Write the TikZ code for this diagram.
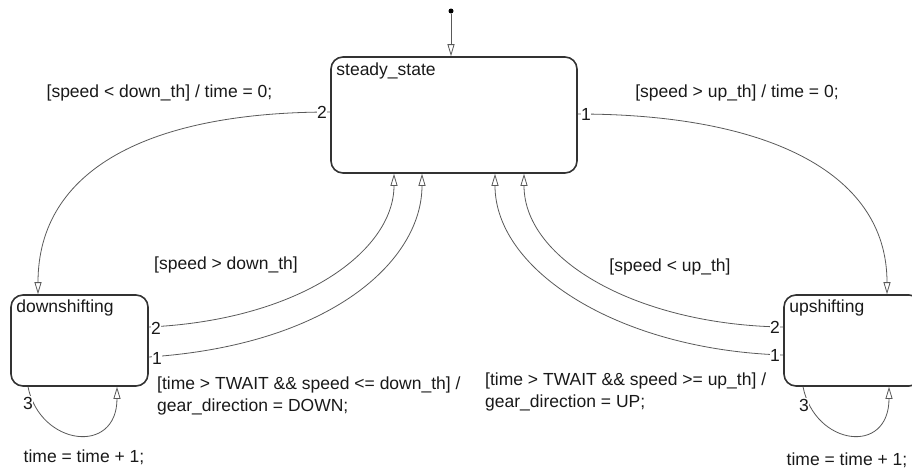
\documentclass[tikz,border=0pt]{standalone}
\usepackage{fontspec}
\setmainfont{Liberation Sans}
\usetikzlibrary{arrows.meta}
\begin{document}
\begin{tikzpicture}[x=1pt,y=-1pt,
  txt/.style={font=\fontsize{17.5}{22}\selectfont, inner sep=0pt, text=black!90},
  statebox/.style={draw=black!80, line width=1.6pt, rounded corners=12pt, inner sep=0pt},
  conn/.style={draw=black!65, line width=0.8pt, -{Triangle[open, length=12pt, width=7pt, fill=white]}},
  num/.style={txt, fill=white, inner sep=0.6pt},
]
\useasboundingbox (0,0) rectangle (912,469);
\clip (0,0) rectangle (912,469);

% states
\node[statebox, minimum width=246pt, minimum height=116pt] (ss) at (454,115) {};
\node[statebox, minimum width=137pt, minimum height=91pt] (ds) at (79.5,340.5) {};
\node[statebox, minimum width=137pt, minimum height=91pt] (us) at (852.5,340.5) {};
\node[txt, anchor=west] (sst) at ([xshift=6pt,yshift=-15pt]ss.north west) {steady\_state};
\node[txt, anchor=west] (dst) at ([xshift=6pt,yshift=-14pt]ds.north west) {downshifting};
\node[txt, anchor=west] (ust) at ([xshift=6pt,yshift=-14pt]us.north west) {upshifting};

% default transition
\node[circle, fill=black, inner sep=0pt, minimum size=5pt] (init) at (451,11) {};
\draw[conn] (init) -- (init |- ss.north);

% steady -> downshifting
\draw[conn] ([yshift=3pt]ss.west) .. controls +(-181,0) and +(0,-125) .. ([xshift=-41.5pt]ds.north);
% steady -> upshifting
\draw[conn] ([yshift=1pt]ss.east) .. controls +(183,0) and +(0,-125) .. ([xshift=34.5pt]us.north);
% downshifting -> steady
\draw[conn] ([yshift=13.5pt]ds.east) .. controls +(152,-7) and +(0,77) .. ([xshift=-60pt]ss.south);
\draw[conn] ([yshift=-16.5pt]ds.east) .. controls +(182,-12) and +(0,87) .. ([xshift=-32pt]ss.south);
% upshifting -> steady
\draw[conn] ([yshift=13.5pt]us.west) .. controls +(-144,-2) and +(0,87) .. ([xshift=70pt]ss.south);
\draw[conn] ([yshift=-14.5pt]us.west) .. controls +(-164,-5) and +(0,97) .. ([xshift=41pt]ss.south);
% self loops
\draw[conn] ([xshift=-51.5pt]ds.south) .. controls +(12,59) and +(0,69) .. ([xshift=37.5pt]ds.south);
\draw[conn] ([xshift=-49.5pt]us.south) .. controls +(12,59) and +(0,69) .. ([xshift=36.5pt]us.south);

% execution order numbers
\node[num] (n_ss2) at (322,112) {2};
\node[num] (n_ss1) at (586,114) {1};
\node[num] (n_ds2) at (156,328) {2};
\node[num] (n_ds1) at (157,358) {1};
\node[num] (n_us2) at (775,327) {2};
\node[num] (n_us1) at (775,355) {1};
\node[num] (n_ds3) at (28,403) {3};
\node[num] (n_us3) at (804,405) {3};

% transition labels
\node[txt] (l1) at (159.5,93) {[speed < down\_th] / time = 0;};
\node[txt] (l2) at (737,93) {[speed > up\_th] / time = 0;};
\node[txt] (l3) at (226,265) {[speed > down\_th]};
\node[txt] (l4) at (670,267) {[speed < up\_th]};
\node[txt, align=left, anchor=base west] (l5) at (157,411) {[time > TWAIT \&\& speed <= down\_th] /\\gear\_direction = DOWN;};
\node[txt, align=left, anchor=base west] (l6) at (485,407) {[time > TWAIT \&\& speed >= up\_th] /\\gear\_direction = UP;};
\node[txt] (l7) at (84,457) {time = time + 1;};
\node[txt] (l8) at (847,460) {time = time + 1;};
\end{tikzpicture}
\end{document}
